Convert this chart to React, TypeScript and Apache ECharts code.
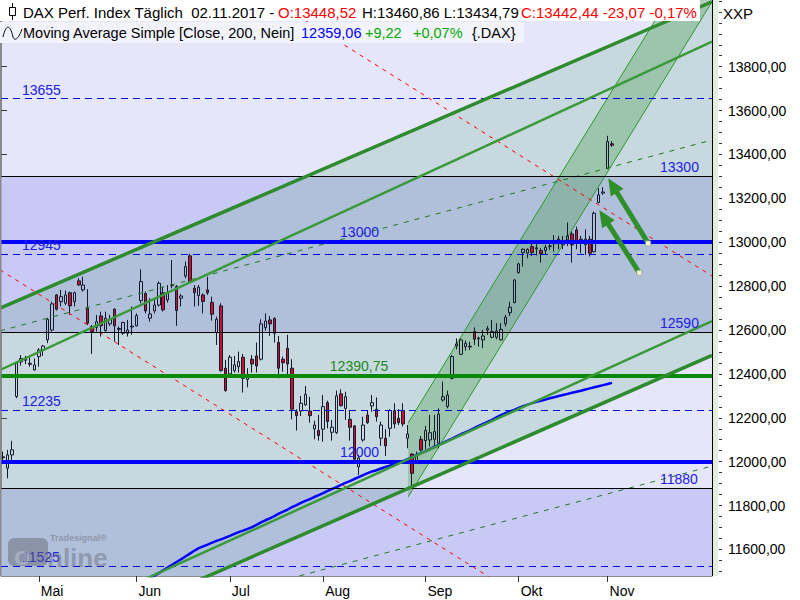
import React, { useEffect, useRef } from 'react';
import * as echarts from 'echarts';

// ---------------- data ----------------
const monthTradingDays: [string, number[]][] = [
  ['Apr', [19, 20, 21, 24, 25, 26, 27, 28]],
  ['Mai', [2, 3, 4, 5, 8, 9, 10, 11, 12, 15, 16, 17, 18, 19, 22, 23, 24, 25, 26, 29, 30, 31]],
  ['Jun', [1, 2, 6, 7, 8, 9, 12, 13, 14, 15, 16, 19, 20, 21, 22, 23, 26, 27, 28, 29, 30]],
  ['Jul', [3, 4, 5, 6, 7, 10, 11, 12, 13, 14, 17, 18, 19, 20, 21, 24, 25, 26, 27, 28, 31]],
  ['Aug', [1, 2, 3, 4, 7, 8, 9, 10, 11, 14, 15, 16, 17, 18, 21, 22, 23, 24, 25, 28, 29, 30, 31]],
  ['Sep', [1, 4, 5, 6, 7, 8, 11, 12, 13, 14, 15, 18, 19, 20, 21, 22, 25, 26, 27, 28, 29]],
  ['Okt', [2, 4, 5, 6, 9, 10, 11, 12, 13, 16, 17, 18, 19, 20, 23, 24, 25, 26, 27, 30]],
  ['Nov', [1, 2]],
];
const futureSlots = 22;

const opens = [
  12022, 11970, 12031, 12297, 12455, 12462, 12448, 12418, 12479, 12509,
  12555, 12600, 12760, 12729, 12722, 12770, 12729, 12824, 12783, 12699,
  12616, 12612, 12664, 12597, 12628, 12695, 12607, 12585, 12585, 12614,
  12619, 12734, 12767, 12654, 12687, 12714, 12770, 12737, 12802, 12798,
  12745, 12846, 12938, 12790, 12757, 12760, 12783, 12726, 12588, 12710,
  12426, 12400, 12415, 12433, 12476, 12375, 12467, 12482, 12467, 12611,
  12646, 12653, 12543, 12467, 12517, 12426, 12228, 12231, 12259, 12231,
  12149, 12142, 12148, 12269, 12134, 12132, 12309, 12243, 12193, 12163,
  11976, 12099, 12213, 12254, 12239, 12107, 12107, 12152, 12233, 12198,
  12233, 12107, 12035, 12000, 12102, 12096, 12099, 12102, 12084, 12281,
  12251, 12380, 12527, 12489, 12524, 12526, 12593, 12560, 12555, 12600,
  12567, 12567, 12555, 12628, 12679, 12725, 12862, 12953, 12950, 12980,
  12970, 12962, 12962, 12981, 12993, 13014, 12988, 13011, 13038, 13056,
  13014, 12988, 13014, 12957, 13181, 13224, 13337, 13448.52,
];
const closes = [
  12018, 12031, 12054, 12449, 12470, 12466, 12444, 12441, 12509, 12527,
  12649, 12719, 12695, 12752, 12760, 12710, 12770, 12805, 12805, 12631,
  12593, 12638, 12619, 12654, 12649, 12619, 12603, 12634, 12600, 12618,
  12666, 12821, 12687, 12673, 12714, 12813, 12692, 12767, 12805, 12689,
  12755, 12889, 12821, 12770, 12795, 12730, 12770, 12672, 12649, 12415,
  12324, 12476, 12441, 12456, 12380, 12391, 12445, 12436, 12628, 12641,
  12628, 12585, 12426, 12451, 12445, 12239, 12210, 12266, 12307, 12210,
  12167, 12119, 12251, 12183, 12157, 12300, 12255, 12296, 12157, 12011,
  12017, 12167, 12178, 12269, 12205, 12167, 12072, 12233, 12172, 12178,
  12172, 12126, 11947, 12025, 12053, 12142, 12132, 12137, 12217, 12296,
  12304, 12479, 12537, 12555, 12539, 12523, 12558, 12563, 12573, 12606,
  12593, 12596, 12603, 12658, 12704, 12828, 12901, 12968, 12968, 12953,
  12975, 12947, 12977, 12983, 12996, 12995, 13003, 13029, 12988, 12995,
  12995, 13014, 12950, 13132, 13216, 13229, 13459, 13442.44,
];
const highs = [
  12046, 12054, 12095, 12456, 12486, 12482, 12476, 12471, 12517, 12532,
  12654, 12729, 12764, 12783, 12780, 12775, 12775, 12836, 12843, 12786,
  12623, 12669, 12684, 12684, 12669, 12699, 12616, 12638, 12646, 12707,
  12676, 12877, 12775, 12745, 12740, 12821, 12798, 12805, 12919, 12805,
  12764, 12912, 12947, 12805, 12805, 12767, 12843, 12752, 12661, 12722,
  12464, 12486, 12482, 12502, 12491, 12426, 12486, 12543, 12649, 12676,
  12664, 12658, 12573, 12479, 12578, 12467, 12239, 12300, 12345, 12296,
  12187, 12213, 12304, 12278, 12190, 12324, 12330, 12319, 12236, 12167,
  12030, 12205, 12233, 12304, 12293, 12183, 12148, 12239, 12266, 12239,
  12266, 12167, 12038, 12046, 12117, 12163, 12213, 12213, 12243, 12365,
  12324, 12486, 12562, 12562, 12552, 12547, 12612, 12570, 12600, 12618,
  12646, 12631, 12631, 12669, 12729, 12831, 12907, 12972, 12972, 12992,
  13003, 12973, 12988, 13003, 13033, 13029, 13029, 13090, 13049, 13071,
  13029, 13059, 13029, 13140, 13246, 13251, 13485, 13460.86,
];
const lows = [
  12005, 11924, 12008, 12289, 12438, 12445, 12433, 12415, 12433, 12482,
  12540, 12593, 12689, 12707, 12714, 12669, 12707, 12802, 12775, 12623,
  12491, 12593, 12570, 12593, 12619, 12547, 12532, 12578, 12570, 12578,
  12616, 12722, 12676, 12638, 12676, 12707, 12684, 12725, 12790, 12619,
  12707, 12836, 12813, 12707, 12710, 12676, 12760, 12643, 12532, 12410,
  12319, 12395, 12406, 12406, 12315, 12339, 12406, 12406, 12461, 12597,
  12573, 12543, 12380, 12410, 12395, 12193, 12142, 12208, 12254, 12178,
  12102, 12096, 12091, 12152, 12096, 12126, 12251, 12190, 12096, 12008,
  11939, 12091, 12172, 12228, 12183, 12072, 12026, 12114, 12152, 12167,
  12160, 12061, 11883, 11993, 12046, 12056, 12069, 12061, 12061, 12274,
  12243, 12375, 12512, 12486, 12506, 12509, 12532, 12524, 12517, 12578,
  12562, 12558, 12552, 12616, 12664, 12722, 12856, 12889, 12927, 12938,
  12940, 12907, 12942, 12965, 12957, 12968, 12968, 12983, 12907, 12968,
  12950, 12942, 12935, 12953, 13178, 13216, 13333, 13434.79,
];

// Moving Average Simple (200) from index 33 onwards
const maStartIndex = 33;
const maValues = [
  11468, 11480, 11492, 11505, 11517, 11530, 11543, 11555, 11568, 11581,
  11594, 11606, 11614, 11622, 11631, 11639, 11646, 11654, 11662, 11671,
  11679, 11686, 11694, 11702, 11712, 11723, 11733, 11742, 11752, 11763,
  11772, 11782, 11793, 11802, 11812, 11821, 11829, 11839, 11848, 11857,
  11867, 11876, 11884, 11894, 11903, 11911, 11921, 11930, 11939, 11948,
  11955, 11961, 11969, 11976, 11982, 11990, 11996, 12003, 12012, 12020,
  12030, 12039, 12047, 12057, 12067, 12076, 12086, 12096, 12105, 12115,
  12125, 12134, 12143, 12153, 12163, 12172, 12181, 12191, 12202, 12212,
  12221, 12229, 12236, 12245, 12253, 12260, 12267, 12273, 12278, 12283,
  12289, 12294, 12299, 12304, 12309, 12314, 12319, 12323, 12329, 12334,
  12339, 12344, 12349, 12354, 12359.06,
];

const yMin = 11479;
const yMax = 14104;
const yLabelValues = [11600, 11800, 12000, 12200, 12400, 12600, 12800, 13000, 13200, 13400, 13600, 13800];
const yMinorTickValues = [
  11500, 11550, 11600, 11650, 11700, 11750, 11800, 11850, 11900, 11950, 12000, 12050, 12100, 12150,
  12200, 12250, 12300, 12350, 12400, 12450, 12500, 12550, 12600, 12650, 12700, 12750, 12800, 12850,
  12900, 12950, 13000, 13050, 13100, 13150, 13200, 13250, 13300, 13350, 13400, 13450, 13500, 13550,
  13600, 13650, 13700, 13750, 13800, 13850, 13900, 13950, 14000, 14050, 14100,
];

// horizontal levels
const dashedBlueLevels = [13655, 12945, 12235, 11525];
const blackLevels = [13300, 12590, 11880];
const boldBlueLevels = [13000, 12000];
const boldGreenLevels = [12390.75];

// zone bands (value ranges)
const darkBands: [number, number][] = [[12590, 13300], [11400, 11880]];

// level labels: [text, slotX, value]
const leftLevelLabels: [string, number, number][] = [['13655', 4.7, 13655], ['12945', 4.7, 12945], ['12235', 4.7, 12235], ['11525', 4.7, 11525]];
const midLevelLabels: [string, number, number][] = [['13000', 76.3, 13000], ['12000', 76.3, 12000]];
const greenLevelLabels: [string, number, number][] = [['12390,75', 74.0, 12390.75]];
const rightLevelLabels: [string, number, number][] = [['13300', 148.3, 13300], ['12590', 148.3, 12590], ['11880', 148.3, 11880]];

// trend lines [slotX, value]
const channelOuterTop: [number, number][] = [[-0.2, 12700], [160, 14096]];
const channelInnerTop: [number, number][] = [[-0.2, 12418], [160, 13914]];
const channelInnerBottom: [number, number][] = [[-0.2, 11164], [160, 12641]];
const channelOuterBottom: [number, number][] = [[-0.2, 11064], [160, 12484]];
const dashedGreenUpper: [number, number][] = [[-0.2, 12596], [160, 13466]];
const dashedGreenLower: [number, number][] = [[60, 11441], [160, 11980]];
const redDashedUpper: [number, number][] = [[55, 14182], [160, 12846]];
const redDashedLower: [number, number][] = [[-0.2, 12874], [120, 11345]];
const steepUpper: [number, number][] = [[91.6, 12176], [170, 14763]];
const steepLower: [number, number][] = [[91.6, 11839], [170, 14426]];

// arrows: [tailX, tailValue, tipX, tipValue]
const arrows: [number, number, number, number][] = [
  [145.65, 12995, 136.65, 13292],
  [143.63, 12861, 134.63, 13147],
];

// ---------------- helpers ----------------
const FONT = '"Liberation Sans", Arial, sans-serif';

const categories: string[] = [];
const monthLabelAt: Record<number, string> = {};
const monthNumbers: Record<string, string> = { Apr: '04', Mai: '05', Jun: '06', Jul: '07', Aug: '08', Sep: '09', Okt: '10', Nov: '11' };
monthTradingDays.forEach(([m, days]) => {
  days.forEach((d, k) => {
    if (k === 0 && d <= 3 && m !== 'Apr') monthLabelAt[categories.length] = m;
    categories.push(String(d).padStart(2, '0') + '.' + monthNumbers[m] + '.2017');
  });
});
for (let i = 0; i < futureSlots; i++) categories.push('+' + (i + 1));
const SLOTS = categories.length;

const maSeriesData: (number | null)[] = categories.map((_, i) => {
  const k = i - maStartIndex;
  return k >= 0 && k < maValues.length ? maValues[k] : null;
});

const fmtDe = (v: number) => v.toFixed(2).replace('.', ',');

export default function App() {
  const ref = useRef<HTMLDivElement>(null);
  useEffect(() => {
    if (!ref.current) return;
    const chart = echarts.init(ref.current, undefined, { renderer: 'svg' });

    const fills: { pts: [number, number][]; fill: string }[] = [
      ...darkBands.map((b) => ({ pts: [[-1, b[0]], [SLOTS + 1, b[0]], [SLOTS + 1, b[1]], [-1, b[1]]] as [number, number][], fill: '#C9C9F6' })),
      { pts: [channelOuterTop[0], channelOuterTop[1], channelOuterBottom[1], channelOuterBottom[0]], fill: 'rgba(80,160,115,0.20)' },
      { pts: [steepUpper[0], steepUpper[1], steepLower[1], steepLower[0]], fill: 'rgba(60,150,60,0.30)' },
    ];

    const clipOf = (params: any) => ({
      type: 'rect',
      shape: { x: params.coordSys.x, y: params.coordSys.y, width: params.coordSys.width, height: params.coordSys.height },
    });

    const lineSeries = (data: [number, number][], color: string, width: number, type: any, z: number) => ({
      type: 'line',
      xAxisIndex: 1,
      yAxisIndex: 0,
      data,
      symbol: 'none',
      silent: true,
      clip: true,
      z,
      lineStyle: { color, width, type },
    });

    const levelLine = (v: number, color: string, width: number, type: any) => ({
      yAxis: v,
      lineStyle: { color, width, type },
    });

    const allLabels = [
      ...leftLevelLabels.map((l) => ({ l, color: '#2020E6', off: 9 })),
      ...midLevelLabels.map((l) => ({ l, color: '#2020E6', off: 10 })),
      ...greenLevelLabels.map((l) => ({ l, color: '#1A8A1A', off: 10 })),
      ...rightLevelLabels.map((l) => ({ l, color: '#2020E6', off: 9 })),
    ];

    const option: any = {
      animation: false,
      textStyle: { fontFamily: FONT },
      grid: { left: 1, right: 88, top: 0, bottom: 24, show: true, backgroundColor: '#E6E6FA', borderWidth: 0 },
      xAxis: [
        {
          type: 'category',
          data: categories,
          boundaryGap: true,
          axisLine: { show: true, onZero: false, lineStyle: { color: '#8a8a8a', width: 1 } },
          axisTick: {
            show: true,
            alignWithLabel: true,
            interval: (i: number) => monthLabelAt[i] !== undefined,
            length: 6,
            lineStyle: { color: '#333' },
          },
          axisLabel: {
            show: true,
            interval: (i: number) => monthLabelAt[i] !== undefined,
            formatter: (_v: string, i: number) => monthLabelAt[i] ?? '',
            align: 'left',
            margin: 8,
            padding: [0, 0, 0, 2],
            color: '#000',
            fontSize: 14,
            fontFamily: FONT,
          },
          splitLine: { show: false },
        },
        { type: 'value', min: 0, max: SLOTS, show: false },
      ],
      yAxis: [
        {
          type: 'value',
          min: yMin,
          max: yMax,
          position: 'right',
          offset: 7,
          axisLine: { show: true, lineStyle: { color: '#8a8a8a', width: 1 } },
          axisTick: { show: true, customValues: yLabelValues, length: 6, lineStyle: { color: '#333' } },
          axisLabel: { show: true, customValues: yLabelValues, formatter: (v: number) => fmtDe(v), margin: 9, color: '#000', fontSize: 14, fontFamily: FONT },
          splitLine: { show: false },
        },
        {
          type: 'value',
          min: yMin,
          max: yMax,
          position: 'right',
          offset: 7,
          axisLine: { show: false },
          axisTick: { show: true, customValues: yMinorTickValues, length: 3, lineStyle: { color: '#333' } },
          axisLabel: { show: false },
          splitLine: { show: false },
        },
      ],
      series: [
        {
          type: 'custom',
          xAxisIndex: 1,
          yAxisIndex: 0,
          z: 1,
          silent: true,
          data: fills.map((f, i) => [f.pts[0][0], f.pts[0][1], i]),
          renderItem: (params: any, api: any) => {
            const f = fills[params.dataIndex];
            return {
              type: 'group',
              clipPath: clipOf(params),
              children: [{ type: 'polygon', shape: { points: f.pts.map((p) => api.coord(p)) }, style: { fill: f.fill } }],
            };
          },
        },
        lineSeries(steepUpper, '#2A9A2A', 1, 'solid', 2),
        lineSeries(steepLower, '#2A9A2A', 1, 'solid', 2),
        {
          type: 'candlestick',
          xAxisIndex: 0,
          yAxisIndex: 0,
          z: 3,
          barWidth: 3,
          data: opens.map((o, i) => [o, closes[i], lows[i], highs[i]]),
          itemStyle: { color: 'rgba(0,0,0,0)', color0: '#CC1030', borderColor: '#141a2e', borderColor0: '#141a2e', borderWidth: 1 },
        },
        {
          type: 'line',
          xAxisIndex: 0,
          yAxisIndex: 0,
          z: 4,
          data: maSeriesData,
          symbol: 'none',
          silent: true,
          lineStyle: { color: '#0000FF', width: 2.5 },
        },
        lineSeries(redDashedUpper, '#FF0000', 1, [4, 5], 4),
        lineSeries(redDashedLower, '#FF0000', 1, [4, 5], 4),
        lineSeries(dashedGreenUpper, '#1F7A1F', 1, [5, 6], 4),
        lineSeries(dashedGreenLower, '#1F7A1F', 1, [5, 6], 4),
        {
          type: 'line',
          xAxisIndex: 1,
          yAxisIndex: 0,
          data: [],
          silent: true,
          markLine: {
            silent: true,
            symbol: ['none', 'none'],
            label: { show: false },
            animation: false,
            data: [
              ...dashedBlueLevels.map((v) => levelLine(v, '#0000E6', 1, [7, 5])),
              ...blackLevels.map((v) => levelLine(v, '#000000', 1, 'solid')),
              ...boldBlueLevels.map((v) => levelLine(v, '#0000FF', 4, 'solid')),
              ...boldGreenLevels.map((v) => levelLine(v, '#088A08', 4, 'solid')),
            ],
          },
        },
        lineSeries(channelInnerTop, '#3A9A3A', 2.5, 'solid', 5),
        lineSeries(channelInnerBottom, '#3A9A3A', 2.5, 'solid', 5),
        lineSeries(channelOuterTop, '#2E8B2E', 3.5, 'solid', 5),
        lineSeries(channelOuterBottom, '#2E8B2E', 3.5, 'solid', 5),
        {
          type: 'custom',
          xAxisIndex: 1,
          yAxisIndex: 0,
          z: 6,
          silent: true,
          data: arrows.map((a) => a),
          renderItem: (params: any, api: any) => {
            const a = arrows[params.dataIndex];
            const t = api.coord([a[0], a[1]]);
            const h = api.coord([a[2], a[3]]);
            const dx = h[0] - t[0];
            const dy = h[1] - t[1];
            const len = Math.hypot(dx, dy);
            const ux = dx / len;
            const uy = dy / len;
            const headLen = 17;
            const headW = 7.5;
            const base = [h[0] - ux * headLen, h[1] - uy * headLen];
            const left = [base[0] - uy * headW, base[1] + ux * headW];
            const right = [base[0] + uy * headW, base[1] - ux * headW];
            return {
              type: 'group',
              children: [
                { type: 'line', shape: { x1: t[0], y1: t[1], x2: base[0] + ux * 2, y2: base[1] + uy * 2 }, style: { stroke: '#2F8F2A', lineWidth: 5 } },
                { type: 'polygon', shape: { points: [h, left, right] }, style: { fill: '#2F8F2A' } },
                { type: 'rect', shape: { x: t[0] - 2.5, y: t[1] - 2.5, width: 5, height: 5 }, style: { fill: '#F4F4D8', stroke: '#8a8a70', lineWidth: 0.5 } },
              ],
            };
          },
        },
        {
          type: 'custom',
          xAxisIndex: 1,
          yAxisIndex: 0,
          z: 7,
          silent: true,
          data: allLabels.map((x) => [x.l[1], x.l[2]]),
          renderItem: (params: any, api: any) => {
            const item = allLabels[params.dataIndex];
            const p = api.coord([item.l[1], item.l[2]]);
            return {
              type: 'text',
              x: p[0],
              y: p[1] - item.off,
              style: { text: item.l[0], fill: item.color, font: '14px ' + FONT, align: 'left', verticalAlign: 'middle' },
            };
          },
        },
      ],
      graphic: [
        // frame decorations
        { type: 'rect', z: 50, silent: true, shape: { x: 0, y: 0, width: 1.5, height: 576 }, style: { fill: '#8a8a8a' } },
        { type: 'rect', z: 50, silent: true, shape: { x: 712.5, y: 0, width: 5.5, height: 576 }, style: { fill: '#E2EEDC' } },
        { type: 'line', z: 50, silent: true, shape: { x1: 712.5, y1: 0, x2: 712.5, y2: 576 }, style: { stroke: '#000', lineWidth: 1 } },
        // watermark
        { type: 'rect', z: 40, silent: true, shape: { x: 8, y: 538, width: 40, height: 28, r: 6 }, style: { fill: 'rgba(95,95,105,0.45)' } },
        { type: 'text', z: 41, silent: true, x: 14, y: 556, style: { text: 'o', fill: 'rgba(190,195,215,0.55)', font: 'bold 26px ' + FONT, verticalAlign: 'middle' } },
        { type: 'text', z: 41, silent: true, x: 47, y: 558, style: { text: 'nline', fill: 'rgba(105,105,115,0.45)', font: 'bold 26px ' + FONT, verticalAlign: 'middle' } },
        { type: 'text', z: 41, silent: true, x: 50, y: 538, style: { text: 'Tradesignal®', fill: 'rgba(105,105,115,0.5)', font: 'bold 9px ' + FONT, verticalAlign: 'middle' } },
        // header row 1
        { type: 'rect', z: 60, silent: true, shape: { x: 0, y: 0, width: 700, height: 21 }, style: { fill: '#FFFFFF' } },
        { type: 'line', z: 61, silent: true, shape: { x1: 12.5, y1: 3, x2: 12.5, y2: 20 }, style: { stroke: '#000', lineWidth: 1 } },
        { type: 'rect', z: 62, silent: true, shape: { x: 9.5, y: 7.5, width: 6, height: 8 }, style: { fill: '#fff', stroke: '#000', lineWidth: 1 } },
        { type: 'text', z: 61, silent: true, x: 23, y: 12, style: { text: 'DAX Perf. Index Täglich  02.11.2017 -', fill: '#000', font: '15px ' + FONT, verticalAlign: 'middle' } },
        { type: 'text', z: 61, silent: true, x: 278, y: 12, style: { text: 'O:13448,52', fill: '#FF0000', font: '15px ' + FONT, verticalAlign: 'middle' } },
        { type: 'text', z: 61, silent: true, x: 362, y: 12, style: { text: 'H:13460,86 L:13434,79', fill: '#000', font: '15px ' + FONT, verticalAlign: 'middle' } },
        { type: 'text', z: 61, silent: true, x: 521, y: 12, style: { text: 'C:13442,44 -23,07 -0,17%', fill: '#FF0000', font: '15px ' + FONT, verticalAlign: 'middle' } },
        // header row 2
        { type: 'rect', z: 60, silent: true, shape: { x: 0, y: 22, width: 524, height: 21 }, style: { fill: '#F3F3FD' } },
        { type: 'bezierCurve', z: 61, silent: true, shape: { x1: 3, y1: 37, x2: 13, y2: 37, cpx1: 6, cpy1: 24, cpx2: 10, cpy2: 24 }, style: { stroke: '#000', lineWidth: 1, fill: 'none' } },
        { type: 'bezierCurve', z: 61, silent: true, shape: { x1: 13, y1: 37, x2: 22, y2: 29, cpx1: 15, cpy1: 42, cpx2: 19, cpy2: 38 }, style: { stroke: '#000', lineWidth: 1, fill: 'none' } },
        { type: 'text', z: 61, silent: true, x: 23, y: 32.5, style: { text: 'Moving Average Simple [Close, 200, Nein]', fill: '#000', font: '14.5px ' + FONT, verticalAlign: 'middle' } },
        { type: 'text', z: 61, silent: true, x: 301, y: 32.5, style: { text: '12359,06', fill: '#0000FF', font: '14.5px ' + FONT, verticalAlign: 'middle' } },
        { type: 'text', z: 61, silent: true, x: 365, y: 32.5, style: { text: '+9,22', fill: '#00AA00', font: '14.5px ' + FONT, verticalAlign: 'middle' } },
        { type: 'text', z: 61, silent: true, x: 413, y: 32.5, style: { text: '+0,07%', fill: '#00AA00', font: '14.5px ' + FONT, verticalAlign: 'middle' } },
        { type: 'text', z: 61, silent: true, x: 472, y: 32.5, style: { text: '{.DAX}', fill: '#000', font: '14.5px ' + FONT, verticalAlign: 'middle' } },
        // XXP
        { type: 'text', z: 61, silent: true, x: 723, y: 13, style: { text: 'XXP', fill: '#000', font: '15px ' + FONT, verticalAlign: 'middle' } },
      ],
    };

    chart.setOption(option);
    return () => chart.dispose();
  }, []);

  return <div ref={ref} style={{ position: 'fixed', left: 0, top: 0, width: 800, height: 600, background: '#fff' }} />;
}
